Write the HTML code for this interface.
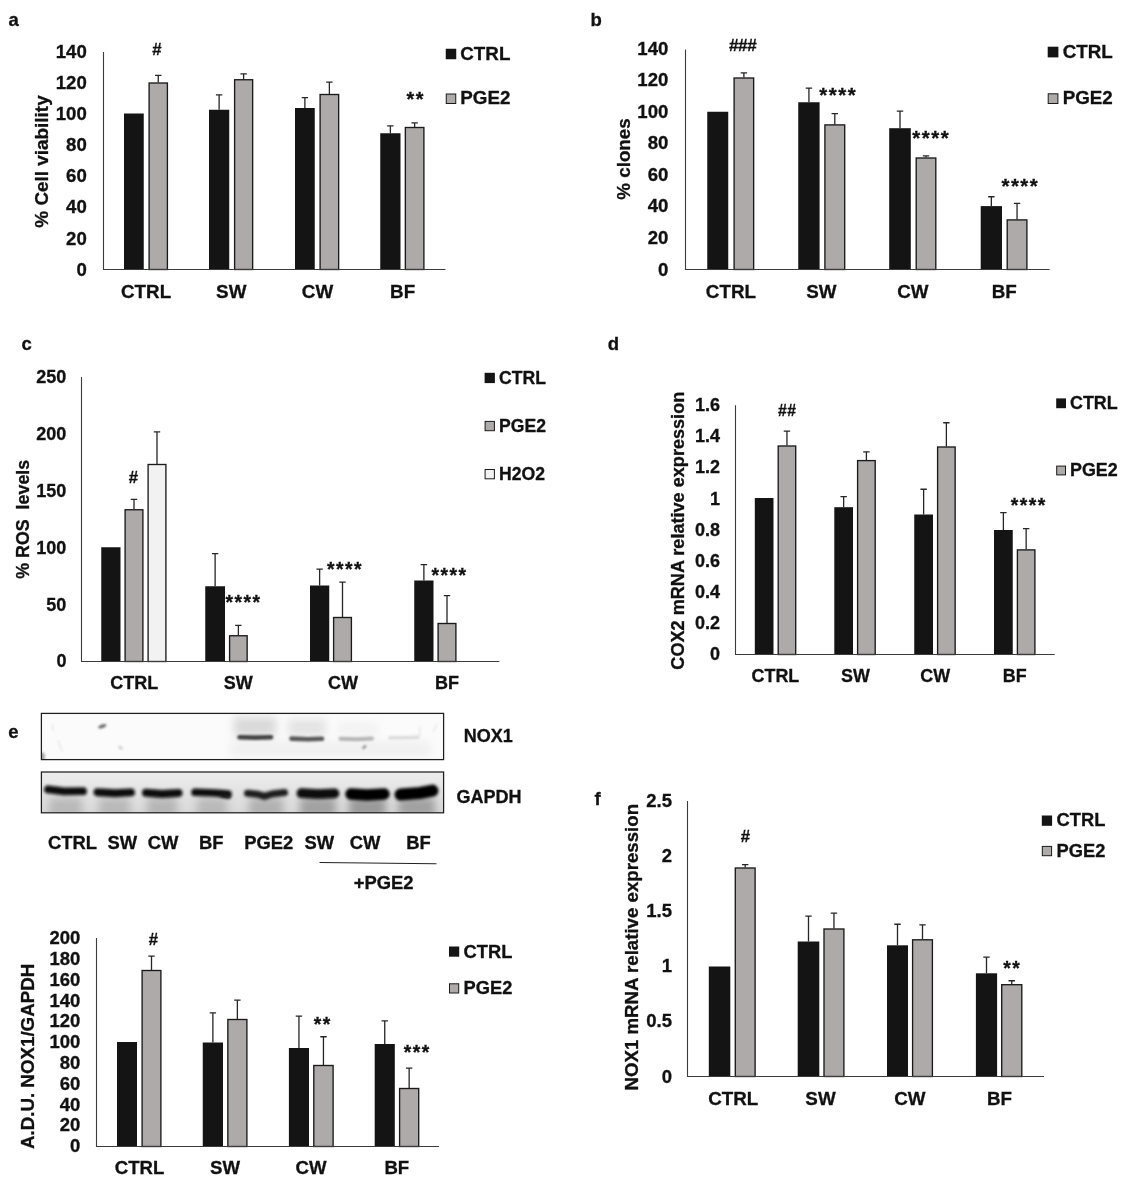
<!DOCTYPE html>
<html lang="en"><head><meta charset="utf-8"><title>Figure</title>
<style>
html,body{margin:0;padding:0;background:#fff;}
svg{display:block;will-change:transform;}
svg text{font-family:"Liberation Sans",Arial,Helvetica,sans-serif;font-weight:bold;fill:#111111;stroke:#111111;stroke-width:0.3px;}
</style></head><body>
<svg width="1127" height="1186" viewBox="0 0 1127 1186">
<rect width="1127" height="1186" fill="#ffffff"/>
<text x="8.5" y="25.5" font-size="18.5" text-anchor="start">a</text>
<text x="590.5" y="25.7" font-size="18.5" text-anchor="start">b</text>
<text x="21.5" y="349.7" font-size="18.5" text-anchor="start">c</text>
<text x="607.7" y="350.4" font-size="18.5" text-anchor="start">d</text>
<text x="8.2" y="738.1" font-size="18.5" text-anchor="start">e</text>
<text x="594.5" y="805" font-size="18.5" text-anchor="start">f</text>
<rect x="124" y="113.5" width="19.75" height="156" fill="#141414"/>
<rect x="149.1" y="83" width="18.3" height="186.5" fill="#aeaaaa" stroke="#1a1a1a" stroke-width="1.35"/>
<path d="M158.25 82.5V75.05M155.05 75.3H161.45" stroke="#262626" stroke-width="1.3" fill="none"/>
<rect x="209" y="109.75" width="20.25" height="159.75" fill="#141414"/>
<path d="M219.12 109.75V94.55M215.93 94.8H222.32" stroke="#262626" stroke-width="1.3" fill="none"/>
<rect x="234.6" y="79.75" width="18.05" height="189.75" fill="#aeaaaa" stroke="#1a1a1a" stroke-width="1.35"/>
<path d="M243.62 79.25V73.55M240.43 73.8H246.82" stroke="#262626" stroke-width="1.3" fill="none"/>
<rect x="295" y="108" width="19.75" height="161.5" fill="#141414"/>
<path d="M304.88 108V97.3M301.68 97.55H308.07" stroke="#262626" stroke-width="1.3" fill="none"/>
<rect x="320.1" y="94.5" width="18.55" height="175" fill="#aeaaaa" stroke="#1a1a1a" stroke-width="1.35"/>
<path d="M329.38 94V81.8M326.18 82.05H332.57" stroke="#262626" stroke-width="1.3" fill="none"/>
<rect x="380.25" y="133.25" width="20.25" height="136.25" fill="#141414"/>
<path d="M390.38 133.25V125.55M387.18 125.8H393.57" stroke="#262626" stroke-width="1.3" fill="none"/>
<rect x="405.35" y="127.5" width="18.55" height="142" fill="#aeaaaa" stroke="#1a1a1a" stroke-width="1.35"/>
<path d="M414.62 127V122.55M411.43 122.8H417.82" stroke="#262626" stroke-width="1.3" fill="none"/>
<path d="M103.5 52V269.5H445.5" stroke="#3c3c3c" stroke-width="1.1" fill="none"/>
<text x="86.8" y="275.57" font-size="18.6" text-anchor="end">0</text>
<text x="86.8" y="244.5" font-size="18.6" text-anchor="end">20</text>
<text x="86.8" y="213.42" font-size="18.6" text-anchor="end">40</text>
<text x="86.8" y="182.35" font-size="18.6" text-anchor="end">60</text>
<text x="86.8" y="151.28" font-size="18.6" text-anchor="end">80</text>
<text x="86.8" y="120.21" font-size="18.6" text-anchor="end">100</text>
<text x="86.8" y="89.14" font-size="18.6" text-anchor="end">120</text>
<text x="86.8" y="58.07" font-size="18.6" text-anchor="end">140</text>
<text x="146.1" y="298" font-size="18.8" text-anchor="middle">CTRL</text>
<text x="231.25" y="298" font-size="18.8" text-anchor="middle">SW</text>
<text x="317.5" y="298" font-size="18.8" text-anchor="middle">CW</text>
<text x="402.6" y="298" font-size="18.8" text-anchor="middle">BF</text>
<text transform="translate(48.4 161.5) rotate(-90)" font-size="18.9" text-anchor="middle">% Cell viability</text>
<text x="157" y="54.8" font-size="16.7" text-anchor="middle" stroke="#111111" stroke-width="0.55" letter-spacing="0">#</text>
<text x="415.75" y="106.2" font-size="19.8" text-anchor="middle" letter-spacing="1.5">**</text>
<rect x="445.75" y="48.75" width="10.5" height="10.5" fill="#141414"/>
<text x="460.3" y="59.8" font-size="18.8" text-anchor="start">CTRL</text>
<rect x="446.25" y="94" width="9.5" height="9.5" fill="#aeaaaa" stroke="#1a1a1a" stroke-width="1"/>
<text x="460.3" y="104.4" font-size="18.8" text-anchor="start">PGE2</text>
<rect x="707.25" y="111.75" width="21" height="157.25" fill="#141414"/>
<rect x="734.1" y="78" width="19.55" height="191.5" fill="#aeaaaa" stroke="#1a1a1a" stroke-width="1.35"/>
<path d="M743.88 77.5V72.55M740.67 72.8H747.08" stroke="#262626" stroke-width="1.3" fill="none"/>
<rect x="798.25" y="102.25" width="21.35" height="166.75" fill="#141414"/>
<path d="M808.92 102.25V87.8M805.72 88.05H812.12" stroke="#262626" stroke-width="1.3" fill="none"/>
<rect x="824.9" y="124.9" width="19.8" height="144.6" fill="#aeaaaa" stroke="#1a1a1a" stroke-width="1.35"/>
<path d="M834.8 124.4V113.3M831.6 113.55H838" stroke="#262626" stroke-width="1.3" fill="none"/>
<rect x="889.2" y="128.2" width="21.6" height="140.8" fill="#141414"/>
<path d="M900 128.2V110.8M896.8 111.05H903.2" stroke="#262626" stroke-width="1.3" fill="none"/>
<rect x="916.2" y="158" width="19.6" height="111.5" fill="#aeaaaa" stroke="#1a1a1a" stroke-width="1.35"/>
<path d="M926 157.5V155.7M922.8 155.95H929.2" stroke="#262626" stroke-width="1.3" fill="none"/>
<rect x="980.7" y="206.1" width="21.3" height="62.9" fill="#141414"/>
<path d="M991.35 206.1V196.5M988.15 196.75H994.55" stroke="#262626" stroke-width="1.3" fill="none"/>
<rect x="1007.2" y="219.9" width="19.7" height="49.6" fill="#aeaaaa" stroke="#1a1a1a" stroke-width="1.35"/>
<path d="M1017.05 219.4V203.2M1013.85 203.45H1020.25" stroke="#262626" stroke-width="1.3" fill="none"/>
<path d="M685.5 49.5V269.5H1049.7" stroke="#3c3c3c" stroke-width="1.1" fill="none"/>
<text x="668.4" y="275.52" font-size="18.6" text-anchor="end">0</text>
<text x="668.4" y="243.98" font-size="18.6" text-anchor="end">20</text>
<text x="668.4" y="212.45" font-size="18.6" text-anchor="end">40</text>
<text x="668.4" y="180.91" font-size="18.6" text-anchor="end">60</text>
<text x="668.4" y="149.37" font-size="18.6" text-anchor="end">80</text>
<text x="668.4" y="117.84" font-size="18.6" text-anchor="end">100</text>
<text x="668.4" y="86.3" font-size="18.6" text-anchor="end">120</text>
<text x="668.4" y="54.77" font-size="18.6" text-anchor="end">140</text>
<text x="730.9" y="298" font-size="18.8" text-anchor="middle">CTRL</text>
<text x="821.4" y="298" font-size="18.8" text-anchor="middle">SW</text>
<text x="912.9" y="298" font-size="18.8" text-anchor="middle">CW</text>
<text x="1004.3" y="298" font-size="18.8" text-anchor="middle">BF</text>
<text transform="translate(630 159) rotate(-90)" font-size="18.8" text-anchor="middle">% clones</text>
<text x="742.6" y="50.5" font-size="17.1" text-anchor="middle" stroke="#111111" stroke-width="0.55" letter-spacing="-0.4">###</text>
<text x="838.25" y="102.4" font-size="20.43" text-anchor="middle" letter-spacing="1.5">****</text>
<text x="931.25" y="145.2" font-size="20.43" text-anchor="middle" letter-spacing="1.5">****</text>
<text x="1020.35" y="193" font-size="20.43" text-anchor="middle" letter-spacing="1.5">****</text>
<rect x="1047.7" y="46.7" width="10.7" height="10.7" fill="#141414"/>
<text x="1062.7" y="57.8" font-size="18.8" text-anchor="start">CTRL</text>
<rect x="1048.2" y="93.8" width="9.7" height="9.7" fill="#aeaaaa" stroke="#1a1a1a" stroke-width="1"/>
<text x="1062.7" y="103.7" font-size="18.8" text-anchor="start">PGE2</text>
<rect x="101.25" y="547.25" width="19.25" height="113.95" fill="#141414"/>
<rect x="125.1" y="509.75" width="17.8" height="151.75" fill="#aeaaaa" stroke="#1a1a1a" stroke-width="1.35"/>
<path d="M134 509.25V499.05M130.8 499.3H137.2" stroke="#262626" stroke-width="1.3" fill="none"/>
<rect x="148.1" y="464.5" width="17.8" height="197" fill="#f2f2f2" stroke="#1a1a1a" stroke-width="1.35"/>
<path d="M157 464V431.55M153.8 431.8H160.2" stroke="#262626" stroke-width="1.3" fill="none"/>
<rect x="205.25" y="586.25" width="19.75" height="74.95" fill="#141414"/>
<path d="M215.12 586.25V553.3M211.93 553.55H218.32" stroke="#262626" stroke-width="1.3" fill="none"/>
<rect x="229.6" y="635.75" width="17.55" height="25.75" fill="#aeaaaa" stroke="#1a1a1a" stroke-width="1.35"/>
<path d="M238.38 635.25V625.05M235.18 625.3H241.57" stroke="#262626" stroke-width="1.3" fill="none"/>
<rect x="310" y="585.5" width="19.25" height="75.7" fill="#141414"/>
<path d="M319.62 585.5V568.8M316.43 569.05H322.82" stroke="#262626" stroke-width="1.3" fill="none"/>
<rect x="333.6" y="617.5" width="17.8" height="44" fill="#aeaaaa" stroke="#1a1a1a" stroke-width="1.35"/>
<path d="M342.5 617V581.8M339.3 582.05H345.7" stroke="#262626" stroke-width="1.3" fill="none"/>
<rect x="414.25" y="580.5" width="19.25" height="80.7" fill="#141414"/>
<path d="M423.88 580.5V564.3M420.68 564.55H427.07" stroke="#262626" stroke-width="1.3" fill="none"/>
<rect x="438.1" y="623.5" width="17.8" height="38" fill="#aeaaaa" stroke="#1a1a1a" stroke-width="1.35"/>
<path d="M447 623V595.3M443.8 595.55H450.2" stroke="#262626" stroke-width="1.3" fill="none"/>
<path d="M81.5 377V661.5H499.3" stroke="#3c3c3c" stroke-width="1.1" fill="none"/>
<text x="66.4" y="667.41" font-size="18" text-anchor="end">0</text>
<text x="66.4" y="610.57" font-size="18" text-anchor="end">50</text>
<text x="66.4" y="553.73" font-size="18" text-anchor="end">100</text>
<text x="66.4" y="496.89" font-size="18" text-anchor="end">150</text>
<text x="66.4" y="440.05" font-size="18" text-anchor="end">200</text>
<text x="66.4" y="383.21" font-size="18" text-anchor="end">250</text>
<text x="134.3" y="688.9" font-size="18" text-anchor="middle">CTRL</text>
<text x="238.3" y="688.9" font-size="18" text-anchor="middle">SW</text>
<text x="343" y="688.9" font-size="18" text-anchor="middle">CW</text>
<text x="447.1" y="688.9" font-size="18" text-anchor="middle">BF</text>
<text transform="translate(28.5 519.3) rotate(-90)" font-size="17.85" text-anchor="middle" xml:space="preserve">% ROS  levels</text>
<text x="133.3" y="482.8" font-size="16.7" text-anchor="middle" stroke="#111111" stroke-width="0.55" letter-spacing="0">#</text>
<text x="243.55" y="609" font-size="19.35" text-anchor="middle" letter-spacing="1.5">****</text>
<text x="345.05" y="576" font-size="19.35" text-anchor="middle" letter-spacing="1.5">****</text>
<text x="449.55" y="582" font-size="19.35" text-anchor="middle" letter-spacing="1.5">****</text>
<rect x="484.6" y="372.8" width="10.3" height="10.3" fill="#141414"/>
<text x="499" y="383.7" font-size="17.6" text-anchor="start">CTRL</text>
<rect x="485.1" y="421.4" width="9.3" height="9.3" fill="#aeaaaa" stroke="#1a1a1a" stroke-width="1"/>
<text x="499" y="431.6" font-size="17.6" text-anchor="start">PGE2</text>
<rect x="485.1" y="469.5" width="9.3" height="9.3" fill="#f2f2f2" stroke="#1a1a1a" stroke-width="1"/>
<text x="499" y="479.7" font-size="17.6" text-anchor="start">H2O2</text>
<rect x="754.8" y="498" width="18.7" height="156.3" fill="#141414"/>
<rect x="778.2" y="446" width="17.5" height="208.5" fill="#aeaaaa" stroke="#1a1a1a" stroke-width="1.35"/>
<path d="M786.95 445.5V430.8M783.75 431.05H790.15" stroke="#262626" stroke-width="1.3" fill="none"/>
<rect x="834.3" y="507.2" width="18.7" height="147.1" fill="#141414"/>
<path d="M843.65 507.2V496.3M840.45 496.55H846.85" stroke="#262626" stroke-width="1.3" fill="none"/>
<rect x="857.6" y="460.6" width="17.6" height="193.9" fill="#aeaaaa" stroke="#1a1a1a" stroke-width="1.35"/>
<path d="M866.4 460.1V451.7M863.2 451.95H869.6" stroke="#262626" stroke-width="1.3" fill="none"/>
<rect x="914.25" y="514.5" width="18.75" height="139.8" fill="#141414"/>
<path d="M923.62 514.5V489M920.42 489.25H926.83" stroke="#262626" stroke-width="1.3" fill="none"/>
<rect x="937.6" y="447" width="17.55" height="207.5" fill="#aeaaaa" stroke="#1a1a1a" stroke-width="1.35"/>
<path d="M946.38 446.5V422.5M943.17 422.75H949.58" stroke="#262626" stroke-width="1.3" fill="none"/>
<rect x="994" y="530" width="18.75" height="124.3" fill="#141414"/>
<path d="M1003.38 530V512.3M1000.17 512.55H1006.58" stroke="#262626" stroke-width="1.3" fill="none"/>
<rect x="1017.4" y="549.9" width="17.5" height="104.6" fill="#aeaaaa" stroke="#1a1a1a" stroke-width="1.35"/>
<path d="M1026.15 549.4V528.3M1022.95 528.55H1029.35" stroke="#262626" stroke-width="1.3" fill="none"/>
<path d="M735.5 405.2V654.5H1054.7" stroke="#3c3c3c" stroke-width="1.1" fill="none"/>
<text x="720" y="660.26" font-size="18" text-anchor="end">0</text>
<text x="720" y="629.12" font-size="18" text-anchor="end">0.2</text>
<text x="720" y="597.99" font-size="18" text-anchor="end">0.4</text>
<text x="720" y="566.85" font-size="18" text-anchor="end">0.6</text>
<text x="720" y="535.71" font-size="18" text-anchor="end">0.8</text>
<text x="720" y="504.57" font-size="18" text-anchor="end">1</text>
<text x="720" y="473.43" font-size="18" text-anchor="end">1.2</text>
<text x="720" y="442.3" font-size="18" text-anchor="end">1.4</text>
<text x="720" y="411.16" font-size="18" text-anchor="end">1.6</text>
<text x="775.4" y="682.3" font-size="17.9" text-anchor="middle">CTRL</text>
<text x="855.4" y="682.3" font-size="17.9" text-anchor="middle">SW</text>
<text x="935.2" y="682.3" font-size="17.9" text-anchor="middle">CW</text>
<text x="1014.7" y="682.3" font-size="17.9" text-anchor="middle">BF</text>
<text transform="translate(684 530.7) rotate(-90)" font-size="18.1" text-anchor="middle">COX2 mRNA relative expression</text>
<text x="787.3" y="415.8" font-size="15.7" text-anchor="middle" stroke="#111111" stroke-width="0.55" letter-spacing="0.6">##</text>
<text x="1028.75" y="511.5" font-size="19.35" text-anchor="middle" letter-spacing="1.5">****</text>
<rect x="1056.2" y="398.4" width="9.8" height="9.8" fill="#141414"/>
<text x="1070" y="408.6" font-size="17.9" text-anchor="start">CTRL</text>
<rect x="1056.7" y="466.1" width="8.8" height="8.8" fill="#aeaaaa" stroke="#1a1a1a" stroke-width="1"/>
<text x="1070" y="475.6" font-size="17.9" text-anchor="start">PGE2</text>
<rect x="117" y="1042" width="20" height="104.1" fill="#141414"/>
<rect x="142.1" y="970.5" width="18.8" height="176" fill="#aeaaaa" stroke="#1a1a1a" stroke-width="1.35"/>
<path d="M151.5 970V955.8M148.3 956.05H154.7" stroke="#262626" stroke-width="1.3" fill="none"/>
<rect x="202.75" y="1042.5" width="20.25" height="103.6" fill="#141414"/>
<path d="M212.88 1042.5V1012.6M209.68 1012.85H216.07" stroke="#262626" stroke-width="1.3" fill="none"/>
<rect x="227.85" y="1019.5" width="19.05" height="127" fill="#aeaaaa" stroke="#1a1a1a" stroke-width="1.35"/>
<path d="M237.38 1019V999.8M234.18 1000.05H240.57" stroke="#262626" stroke-width="1.3" fill="none"/>
<rect x="288.9" y="1048" width="20.1" height="98.1" fill="#141414"/>
<path d="M298.95 1048V1015.8M295.75 1016.05H302.15" stroke="#262626" stroke-width="1.3" fill="none"/>
<rect x="313.8" y="1065.5" width="19.3" height="81" fill="#aeaaaa" stroke="#1a1a1a" stroke-width="1.35"/>
<path d="M323.45 1065V1036.5M320.25 1036.75H326.65" stroke="#262626" stroke-width="1.3" fill="none"/>
<rect x="374.7" y="1044" width="20.1" height="102.1" fill="#141414"/>
<path d="M384.75 1044V1020.7M381.55 1020.95H387.95" stroke="#262626" stroke-width="1.3" fill="none"/>
<rect x="399.6" y="1088.5" width="19.1" height="58" fill="#aeaaaa" stroke="#1a1a1a" stroke-width="1.35"/>
<path d="M409.15 1088V1067.8M405.95 1068.05H412.35" stroke="#262626" stroke-width="1.3" fill="none"/>
<path d="M96.5 938V1146.5H439" stroke="#3c3c3c" stroke-width="1.1" fill="none"/>
<text x="80.3" y="1152.18" font-size="18.5" text-anchor="end">0</text>
<text x="80.3" y="1131.37" font-size="18.5" text-anchor="end">20</text>
<text x="80.3" y="1110.56" font-size="18.5" text-anchor="end">40</text>
<text x="80.3" y="1089.75" font-size="18.5" text-anchor="end">60</text>
<text x="80.3" y="1068.94" font-size="18.5" text-anchor="end">80</text>
<text x="80.3" y="1048.13" font-size="18.5" text-anchor="end">100</text>
<text x="80.3" y="1027.32" font-size="18.5" text-anchor="end">120</text>
<text x="80.3" y="1006.51" font-size="18.5" text-anchor="end">140</text>
<text x="80.3" y="985.7" font-size="18.5" text-anchor="end">160</text>
<text x="80.3" y="964.89" font-size="18.5" text-anchor="end">180</text>
<text x="80.3" y="944.08" font-size="18.5" text-anchor="end">200</text>
<text x="139.5" y="1173.6" font-size="18.6" text-anchor="middle">CTRL</text>
<text x="225" y="1173.6" font-size="18.6" text-anchor="middle">SW</text>
<text x="311" y="1173.6" font-size="18.6" text-anchor="middle">CW</text>
<text x="396.8" y="1173.6" font-size="18.6" text-anchor="middle">BF</text>
<text transform="translate(33.8 1056.4) rotate(-90)" font-size="18.74" text-anchor="middle">A.D.U. NOX1/GAPDH</text>
<text x="153.5" y="945.2" font-size="16.7" text-anchor="middle" stroke="#111111" stroke-width="0.55" letter-spacing="0">#</text>
<text x="322.75" y="1030.5" font-size="19.35" text-anchor="middle" letter-spacing="1.5">**</text>
<text x="417.25" y="1059" font-size="19.35" text-anchor="middle" letter-spacing="1.5">***</text>
<rect x="449" y="946.5" width="10.2" height="10.2" fill="#141414"/>
<text x="463.6" y="957.6" font-size="18.3" text-anchor="start">CTRL</text>
<rect x="449.5" y="983.8" width="9.2" height="9.2" fill="#aeaaaa" stroke="#1a1a1a" stroke-width="1"/>
<text x="463.6" y="993.8" font-size="18.3" text-anchor="start">PGE2</text>
<rect x="708.8" y="966.5" width="21.5" height="110" fill="#141414"/>
<rect x="735.3" y="868" width="19.8" height="208.5" fill="#aeaaaa" stroke="#1a1a1a" stroke-width="1.35"/>
<path d="M745.2 867.5V864.3M742 864.55H748.4" stroke="#262626" stroke-width="1.3" fill="none"/>
<rect x="797.7" y="941.5" width="21.6" height="135" fill="#141414"/>
<path d="M808.5 941.5V915.8M805.3 916.05H811.7" stroke="#262626" stroke-width="1.3" fill="none"/>
<rect x="824" y="929" width="19.9" height="147.5" fill="#aeaaaa" stroke="#1a1a1a" stroke-width="1.35"/>
<path d="M833.95 928.5V912.8M830.75 913.05H837.15" stroke="#262626" stroke-width="1.3" fill="none"/>
<rect x="887" y="945.3" width="21" height="131.2" fill="#141414"/>
<path d="M897.5 945.3V924M894.3 924.25H900.7" stroke="#262626" stroke-width="1.3" fill="none"/>
<rect x="912.6" y="939.8" width="19.8" height="136.7" fill="#aeaaaa" stroke="#1a1a1a" stroke-width="1.35"/>
<path d="M922.5 939.3V924.7M919.3 924.95H925.7" stroke="#262626" stroke-width="1.3" fill="none"/>
<rect x="975.9" y="973.3" width="21.2" height="103.2" fill="#141414"/>
<path d="M986.5 973.3V956.8M983.3 957.05H989.7" stroke="#262626" stroke-width="1.3" fill="none"/>
<rect x="1001.7" y="984.7" width="20.1" height="91.8" fill="#aeaaaa" stroke="#1a1a1a" stroke-width="1.35"/>
<path d="M1011.75 984.2V980.5M1008.55 980.75H1014.95" stroke="#262626" stroke-width="1.3" fill="none"/>
<path d="M687.5 801V1076.5H1044" stroke="#3c3c3c" stroke-width="1.1" fill="none"/>
<text x="672" y="1082.58" font-size="18.5" text-anchor="end">0</text>
<text x="672" y="1027.48" font-size="18.5" text-anchor="end">0.5</text>
<text x="672" y="972.38" font-size="18.5" text-anchor="end">1</text>
<text x="672" y="917.28" font-size="18.5" text-anchor="end">1.5</text>
<text x="672" y="862.18" font-size="18.5" text-anchor="end">2</text>
<text x="672" y="807.08" font-size="18.5" text-anchor="end">2.5</text>
<text x="733.3" y="1105.2" font-size="18.8" text-anchor="middle">CTRL</text>
<text x="820.5" y="1105.2" font-size="18.8" text-anchor="middle">SW</text>
<text x="909.8" y="1105.2" font-size="18.8" text-anchor="middle">CW</text>
<text x="999.5" y="1105.2" font-size="18.8" text-anchor="middle">BF</text>
<text transform="translate(637.6 947.2) rotate(-90)" font-size="18.66" text-anchor="middle">NOX1 mRNA relative expression</text>
<text x="745.3" y="841.8" font-size="16.7" text-anchor="middle" stroke="#111111" stroke-width="0.55" letter-spacing="0">#</text>
<text x="1012.25" y="974.5" font-size="19.35" text-anchor="middle" letter-spacing="1.5">**</text>
<rect x="1041.8" y="815.5" width="10.3" height="10.3" fill="#141414"/>
<text x="1056.6" y="826" font-size="18.3" text-anchor="start">CTRL</text>
<rect x="1042.3" y="846.4" width="9.3" height="9.3" fill="#aeaaaa" stroke="#1a1a1a" stroke-width="1"/>
<text x="1056.6" y="856.6" font-size="18.3" text-anchor="start">PGE2</text>
<defs><filter id="b1" filterUnits="userSpaceOnUse" x="0" y="690" width="600" height="140"><feGaussianBlur stdDeviation="1.15"/></filter><filter id="b2" filterUnits="userSpaceOnUse" x="0" y="690" width="600" height="140"><feGaussianBlur stdDeviation="1.7"/></filter><filter id="b3" filterUnits="userSpaceOnUse" x="0" y="690" width="600" height="140"><feGaussianBlur stdDeviation="4.2"/></filter><filter id="b4" filterUnits="userSpaceOnUse" x="0" y="690" width="600" height="140"><feGaussianBlur stdDeviation="0.9"/></filter><linearGradient id="gg" x1="0" y1="0" x2="0" y2="1"><stop offset="0" stop-color="#ededed"/><stop offset="0.45" stop-color="#e4e4e4"/><stop offset="1" stop-color="#d9d9d9"/></linearGradient><clipPath id="c1"><rect x="41.5" y="713.5" width="402" height="46"/></clipPath><clipPath id="c2"><rect x="41.5" y="772" width="402" height="40.7"/></clipPath></defs>
<rect x="41.5" y="713.5" width="402" height="46" fill="#fbfbfb"/>
<g clip-path="url(#c1)">
<rect x="234" y="717" width="42" height="19" fill="#8c8c8c" opacity="0.3" filter="url(#b3)"/>
<rect x="288" y="719" width="38" height="17" fill="#8c8c8c" opacity="0.2" filter="url(#b3)"/>
<rect x="230" y="741" width="200" height="16" fill="#999" opacity="0.10" filter="url(#b3)"/>
<rect x="338" y="722" width="40" height="14" fill="#999" opacity="0.08" filter="url(#b3)"/>
<path d="M239.5 737.2L255 737.6L271 737.3" stroke="#2c2c2c" stroke-width="4.6" stroke-linecap="round" fill="none" opacity="0.88" filter="url(#b1)"/>
<path d="M291.5 738.6L308 739.2L322 738.8" stroke="#333" stroke-width="4.6" stroke-linecap="round" fill="none" opacity="0.8" filter="url(#b1)"/>
<path d="M340.5 738.8L357 739.2L372 738.6" stroke="#555" stroke-width="4" stroke-linecap="round" fill="none" opacity="0.4" filter="url(#b1)"/>
<path d="M390 737.8L405 737.6L418 737.2" stroke="#666" stroke-width="3.4" stroke-linecap="round" fill="none" opacity="0.2" filter="url(#b1)"/>
<ellipse cx="102.3" cy="726.3" rx="4.2" ry="1.7" transform="rotate(-20 102.3 726.3)" fill="#333" opacity="0.75" filter="url(#b4)"/>
<ellipse cx="120.5" cy="747.8" rx="2.6" ry="1.3" transform="rotate(30 120.5 747.8)" fill="#777" opacity="0.4" filter="url(#b4)"/>
<ellipse cx="364.3" cy="747" rx="2.6" ry="1.2" transform="rotate(-45 364.3 747)" fill="#444" opacity="0.6" filter="url(#b4)"/>
<ellipse cx="42.5" cy="756.5" rx="2.5" ry="4" fill="#555" opacity="0.5" filter="url(#b4)"/>
<path d="M52 724L53.5 731M58 740L62 752M419.5 726L420 736M433 732L437 724" stroke="#888" stroke-width="1.6" opacity="0.15" fill="none" filter="url(#b4)"/>
</g>
<rect x="41.4" y="713.4" width="402.2" height="46.2" fill="none" stroke="#1e1e1e" stroke-width="1.25"/>
<rect x="41.5" y="772" width="402" height="40.7" fill="url(#gg)"/>
<g clip-path="url(#c2)">
<rect x="49" y="797" width="33" height="20" fill="#7d7d7d" opacity="0.36" filter="url(#b3)"/>
<rect x="99" y="797" width="31" height="20" fill="#7d7d7d" opacity="0.36" filter="url(#b3)"/>
<rect x="147" y="797" width="30" height="20" fill="#7d7d7d" opacity="0.4" filter="url(#b3)"/>
<rect x="197" y="797" width="30" height="20" fill="#7d7d7d" opacity="0.36" filter="url(#b3)"/>
<rect x="249" y="797" width="34" height="20" fill="#7d7d7d" opacity="0.45" filter="url(#b3)"/>
<rect x="300" y="797" width="36" height="20" fill="#7d7d7d" opacity="0.62" filter="url(#b3)"/>
<rect x="349" y="797" width="37" height="20" fill="#7d7d7d" opacity="0.7" filter="url(#b3)"/>
<rect x="398" y="797" width="37" height="20" fill="#7d7d7d" opacity="0.62" filter="url(#b3)"/>
<path d="M48 789.4L64 791.4L83 791.2" stroke="#0d0d0d" stroke-width="7.8" stroke-linecap="round" stroke-linejoin="round" fill="none" filter="url(#b2)"/>
<path d="M97.5 792.2L115 793.2L131 792.4" stroke="#0d0d0d" stroke-width="7.9" stroke-linecap="round" stroke-linejoin="round" fill="none" filter="url(#b2)"/>
<path d="M146 792.8L162 793.9L178.5 793" stroke="#0a0a0a" stroke-width="8" stroke-linecap="round" stroke-linejoin="round" fill="none" filter="url(#b2)"/>
<path d="M195 792.3L215 793L228 794" stroke="#0f0f0f" stroke-width="7.6" stroke-linecap="round" stroke-linejoin="round" fill="none" filter="url(#b2)"/>
<path d="M222 795L228.5 796.5" stroke="#151515" stroke-width="4.2" stroke-linecap="round" stroke-linejoin="round" fill="none" filter="url(#b2)"/>
<path d="M247.5 793.2L257 794.2L264.5 796.4L272 794L284.5 792.6" stroke="#1c1c1c" stroke-width="7" stroke-linecap="round" stroke-linejoin="round" fill="none" filter="url(#b2)"/>
<path d="M301.5 793.2L318 794.2L334.5 793.3" stroke="#080808" stroke-width="9.8" stroke-linecap="round" stroke-linejoin="round" fill="none" filter="url(#b2)"/>
<path d="M351 794L367 795L384 794" stroke="#060606" stroke-width="11.5" stroke-linecap="round" stroke-linejoin="round" fill="none" filter="url(#b2)"/>
<path d="M400.5 794.6L420 793L432.5 790.6" stroke="#060606" stroke-width="12" stroke-linecap="round" stroke-linejoin="round" fill="none" filter="url(#b2)"/>
</g>
<rect x="41.4" y="772" width="402.2" height="40.8" fill="none" stroke="#1e1e1e" stroke-width="1.25"/>
<text x="488.3" y="742" font-size="18" text-anchor="middle">NOX1</text>
<text x="489" y="802.5" font-size="18" text-anchor="middle">GAPDH</text>
<text x="72.5" y="848.6" font-size="18.4" text-anchor="middle">CTRL</text>
<text x="122.3" y="848.6" font-size="18.4" text-anchor="middle">SW</text>
<text x="163" y="848.6" font-size="18.4" text-anchor="middle">CW</text>
<text x="211.3" y="848.6" font-size="18.4" text-anchor="middle">BF</text>
<text x="268.8" y="848.6" font-size="18.4" text-anchor="middle">PGE2</text>
<text x="319.3" y="848.6" font-size="18.4" text-anchor="middle">SW</text>
<text x="365" y="848.6" font-size="18.4" text-anchor="middle">CW</text>
<text x="418.5" y="848.6" font-size="18.4" text-anchor="middle">BF</text>
<path d="M319.5 862.5L436.5 863.8" stroke="#222" stroke-width="1.1" fill="none"/>
<text x="383.6" y="888.5" font-size="18.4" text-anchor="middle">+PGE2</text>
</svg>
</body></html>
